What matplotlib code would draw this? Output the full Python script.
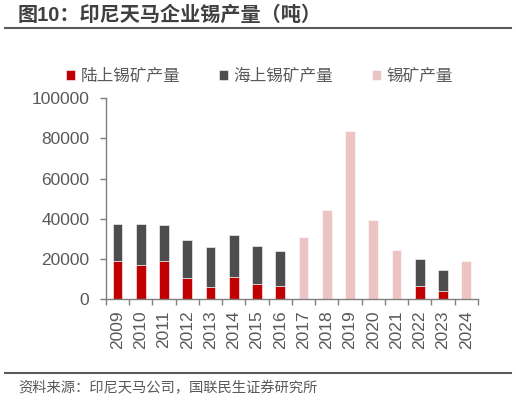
import matplotlib.pyplot as plt
import numpy as np

plt.rcParams['font.family'] = ['Liberation Sans', 'Noto Sans CJK SC', 'DejaVu Sans']

# 数据（吨）
years = ['2009', '2010', '2011', '2012', '2013', '2014', '2015', '2016',
         '2017', '2018', '2019', '2020', '2021', '2022', '2023', '2024']
land = [19200, 16900, 18900, 10750, 6270, 10950, 7460, 6770,
        0, 0, 0, 0, 0, 6770, 3980, 0]
sea = [18300, 20600, 18200, 18750, 19600, 21000, 18900, 17100,
       0, 0, 0, 0, 0, 13100, 10400, 0]
total = [0, 0, 0, 0, 0, 0, 0, 0,
         31000, 44400, 83600, 39600, 24400, 0, 0, 19200]

c_land = '#C00000'
c_sea = '#4D4D4F'
c_total = '#ECC4C4'
c_axis = '#7F7F7F'
c_text = '#595959'

fig = plt.figure(figsize=(5.16, 4.01), dpi=100)
ax = fig.add_axes([0.2054, 0.2536, 0.7205, 0.5013])

x = np.arange(len(years))
w = 0.42
land = np.array(land)
sea = np.array(sea)
ax.bar(x, land, w, color=c_land, label='陆上锡矿产量', edgecolor='white', linewidth=0.4)
ax.bar(x, sea, w, bottom=land, color=c_sea, label='海上锡矿产量', edgecolor='white', linewidth=0.4)
ax.bar(x, total, w, color=c_total, label='锡矿产量', edgecolor='white', linewidth=0.4)

ax.set_xlim(-0.5, len(years) - 0.5)
ax.set_ylim(0, 100000)
ax.set_yticks(np.arange(0, 100001, 20000))
ax.set_yticklabels([str(v) for v in range(0, 100001, 20000)], fontsize=12.5, color=c_text)

ax.set_xticks(x)
ax.set_xticklabels(years, rotation=90, fontsize=12.5, color=c_text)
ax.tick_params(axis='x', which='major', length=0, pad=8)
ax.set_xticks(np.arange(-0.5, len(years)), minor=True)
ax.tick_params(axis='x', which='minor', length=4, width=1, color=c_axis, direction='out')
ax.tick_params(axis='y', length=4, width=1, color=c_axis, direction='out', pad=8)

for s in ['top', 'right']:
    ax.spines[s].set_visible(False)
for s in ['left', 'bottom']:
    ax.spines[s].set_color(c_axis)
    ax.spines[s].set_linewidth(1)

ax.legend(loc='center', bbox_to_anchor=(0.413, 1.11), ncol=3, frameon=False,
          fontsize=12, handlelength=0.55, handleheight=0.55, handletextpad=0.3,
          columnspacing=2.35, labelcolor=c_text, borderaxespad=0)

fig.text(0.035, 0.962, '图10：印尼天马企业锡产量（吨）', fontsize=14.5, fontweight='bold',
         color='#404040', va='center', ha='left')
fig.add_artist(plt.Line2D([0.01, 0.99], [0.93, 0.93], color=c_text, linewidth=1.5))
fig.add_artist(plt.Line2D([0.01, 0.99], [0.07, 0.07], color=c_text, linewidth=1.5))
fig.text(0.035, 0.032, '资料来源：印尼天马公司，国联民生证券研究所', fontsize=10.3,
         color=c_text, va='center', ha='left')

fig.savefig('out.png', dpi=100)
